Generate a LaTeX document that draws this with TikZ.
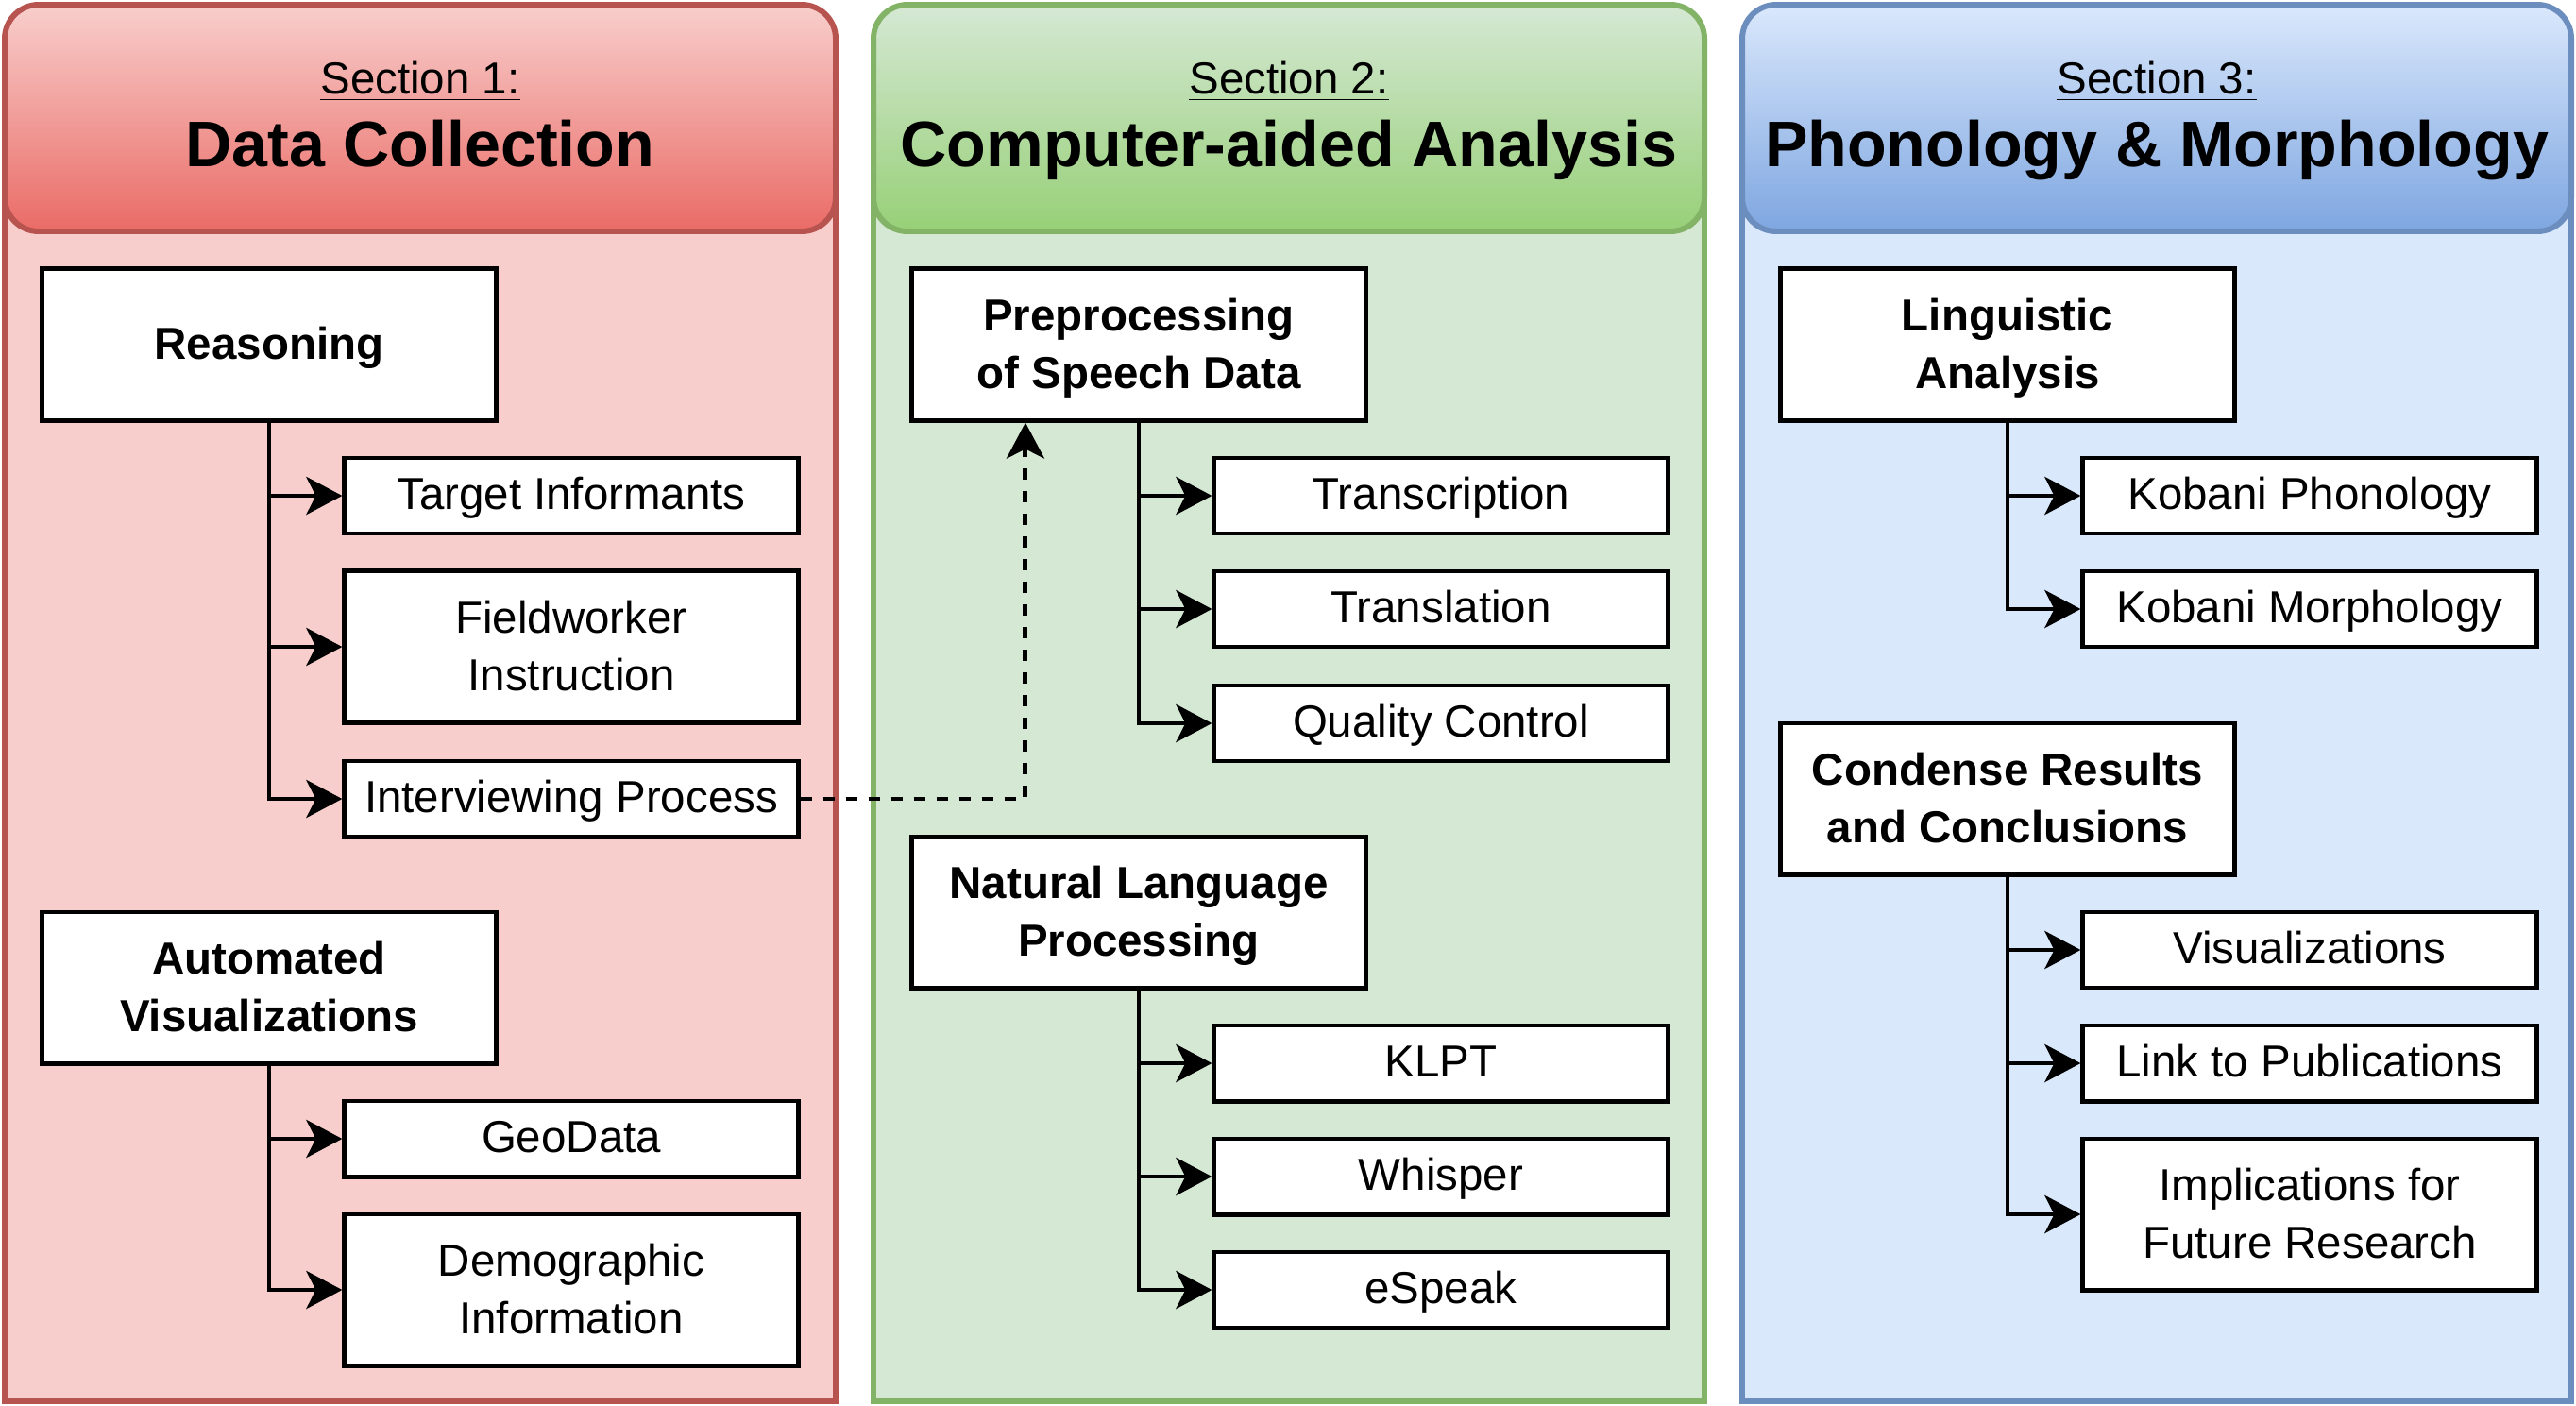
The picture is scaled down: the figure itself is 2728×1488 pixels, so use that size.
\documentclass[tikz,border=0pt]{standalone}
\usepackage{fontspec}
\setmainfont{Liberation Sans}
\usetikzlibrary{arrows.meta}

\definecolor{redfill}{HTML}{F8CECC}
\definecolor{redgrad}{HTML}{EA6B66}
\definecolor{redline}{HTML}{B85450}
\definecolor{greenfill}{HTML}{D5E8D4}
\definecolor{greengrad}{HTML}{97D077}
\definecolor{greenline}{HTML}{82B366}
\definecolor{bluefill}{HTML}{DAE8FC}
\definecolor{bluegrad}{HTML}{7EA6E0}
\definecolor{blueline}{HTML}{6C8EBF}

\begin{document}
\begin{tikzpicture}[
    x=0.01cm, y=-0.01cm,
    panel/.style={line width=1.7pt},
    header/.style={line width=1.7pt, rounded corners=0.36cm},
    section/.style={anchor=base, font=\fontsize{13.5}{16}\selectfont},
    title/.style={anchor=base, font=\fontsize{19.4}{23}\selectfont\bfseries},
    box/.style={draw=black, line width=1.4pt, fill=white, minimum width=4.8cm,
        minimum height=1.6cm, align=center, inner sep=2pt, text depth=0.03cm,
        font=\fontsize{13.5}{17.3}\selectfont\bfseries},
    leaf/.style={box, minimum height=0.8cm, text height=0.31cm,
        font=\fontsize{13.5}{17.3}\selectfont},
    tall/.style={minimum height=1.6cm, text height=},
    edge/.style={line width=1.4pt, -{Stealth[length=0.38cm, width=0.4cm, inset=0.1cm]}},
    link/.style={edge, dash pattern=on 0.12cm off 0.12cm}
]
    \useasboundingbox (0,0) rectangle (2728,1488);

    % section 1
    \fill[redfill] (5,100) rectangle (885,1484);
    \draw[panel, draw=redline] (5,100) -- (5,1484) -- (885,1484) -- (885,100);
    \draw[header, draw=redline, top color=redfill, bottom color=redgrad] (5,5) rectangle (885,245);
    \node[section] (sec1) at (445,100) {\underline{Section 1:}};
    \node[title] (title1) at (445,176) {Data Collection};

    % section 2
    \fill[greenfill] (925,100) rectangle (1805,1484);
    \draw[panel, draw=greenline] (925,100) -- (925,1484) -- (1805,1484) -- (1805,100);
    \draw[header, draw=greenline, top color=greenfill, bottom color=greengrad] (925,5) rectangle (1805,245);
    \node[section] (sec2) at (1365,100) {\underline{Section 2:}};
    \node[title] (title2) at (1365,176) {Computer-aided Analysis};

    % section 3
    \fill[bluefill] (1845,100) rectangle (2723,1484);
    \draw[panel, draw=blueline] (1845,100) -- (1845,1484) -- (2723,1484) -- (2723,100);
    \draw[header, draw=blueline, top color=bluefill, bottom color=bluegrad] (1845,5) rectangle (2723,245);
    \node[section] (sec3) at (2284,100) {\underline{Section 3:}};
    \node[title] (title3) at (2284,176) {Phonology \& Morphology};

    % data collection
    \node[box] (reason) at (285,365) {Reasoning};
    \node[leaf] (target) at (605,525) {Target Informants};
    \node[leaf, tall] (field) at (605,685) {Fieldworker\\Instruction};
    \node[leaf] (interview) at (605,846) {Interviewing Process};
    \node[box] (autovis) at (285,1046) {Automated\\Visualizations};
    \node[leaf] (geo) at (605,1206) {GeoData};
    \node[leaf, tall] (demo) at (605,1366) {Demographic\\Information};

    % computer-aided analysis
    \node[box] (prep) at (1206,365) {Preprocessing\\of Speech Data};
    \node[leaf] (transc) at (1526,525) {Transcription};
    \node[leaf] (transl) at (1526,645) {Translation};
    \node[leaf] (quality) at (1526,766) {Quality Control};
    \node[box] (nlp) at (1206,966) {Natural Language\\Processing};
    \node[leaf] (klpt) at (1526,1126) {KLPT};
    \node[leaf] (whisper) at (1526,1246) {Whisper};
    \node[leaf] (espeak) at (1526,1366) {eSpeak};

    % phonology & morphology
    \node[box] (ling) at (2126,365) {Linguistic\\Analysis};
    \node[leaf] (phon) at (2446,525) {Kobani Phonology};
    \node[leaf] (morph) at (2446,645) {Kobani Morphology};
    \node[box] (condense) at (2126,846) {Condense Results\\and Conclusions};
    \node[leaf] (vis) at (2446,1006) {Visualizations};
    \node[leaf] (pub) at (2446,1126) {Link to Publications};
    \node[leaf, tall] (impl) at (2446,1286) {Implications for\\Future Research};

    \draw[edge] (reason.south) |- (target.west);
    \draw[edge] (reason.south) |- (field.west);
    \draw[edge] (reason.south) |- (interview.west);
    \draw[edge] (autovis.south) |- (geo.west);
    \draw[edge] (autovis.south) |- (demo.west);
    \draw[edge] (prep.south) |- (transc.west);
    \draw[edge] (prep.south) |- (transl.west);
    \draw[edge] (prep.south) |- (quality.west);
    \draw[edge] (nlp.south) |- (klpt.west);
    \draw[edge] (nlp.south) |- (whisper.west);
    \draw[edge] (nlp.south) |- (espeak.west);
    \draw[edge] (ling.south) |- (phon.west);
    \draw[edge] (ling.south) |- (morph.west);
    \draw[edge] (condense.south) |- (vis.west);
    \draw[edge] (condense.south) |- (pub.west);
    \draw[edge] (condense.south) |- (impl.west);
    \draw[link] (interview.east) -| ([xshift=-1.2cm]prep.south);
\end{tikzpicture}
\end{document}
